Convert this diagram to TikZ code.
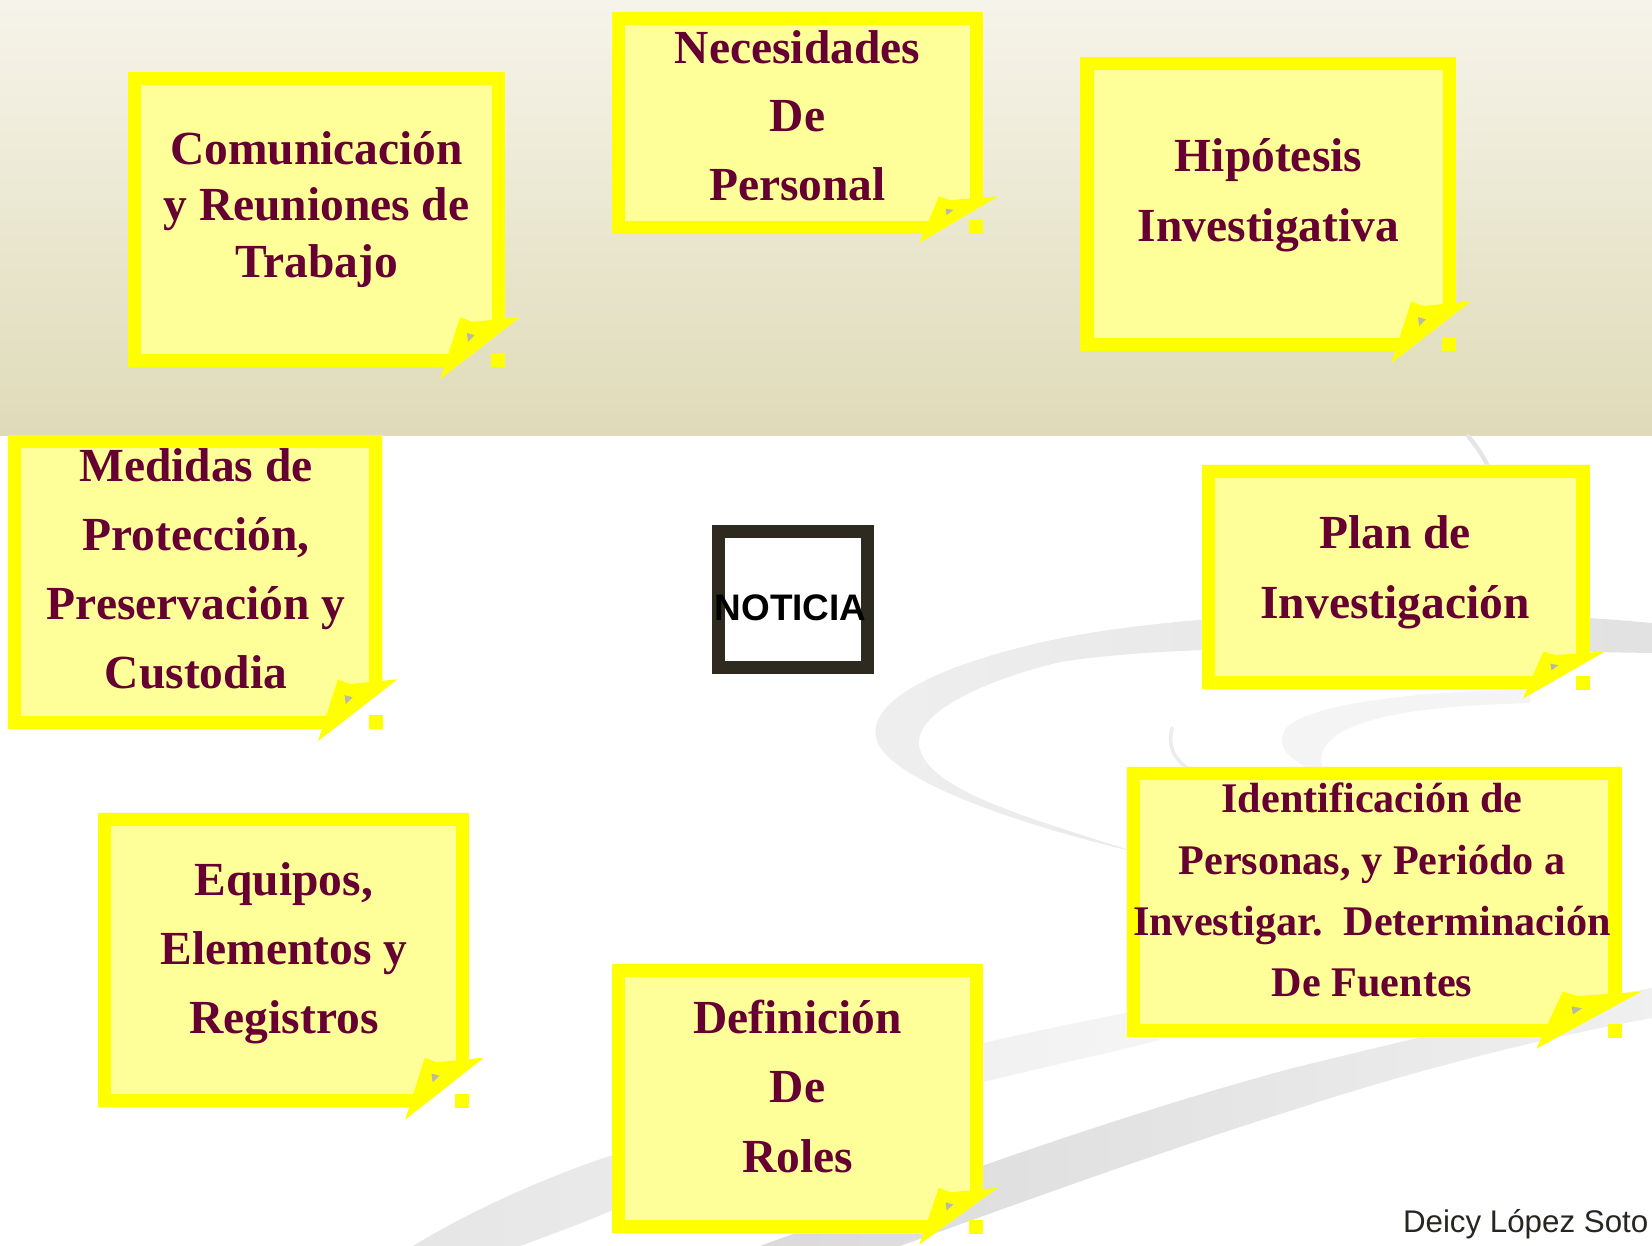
\documentclass[tikz,border=0pt]{standalone}
\usepackage{fontspec}
\setmainfont{Liberation Serif}
\newfontfamily\arialfont{Liberation Sans}

\definecolor{notelight}{RGB}{255,255,153}
\definecolor{noteyellow}{RGB}{255,255,0}
\definecolor{notered}{RGB}{102,0,51}
\definecolor{flapgrey}{RGB}{185,185,165}
\definecolor{noticiaframe}{RGB}{46,42,32}
\definecolor{bandtop}{RGB}{246,244,234}
\definecolor{bandbottom}{RGB}{223,219,185}
\definecolor{signgrey}{RGB}{40,38,32}

\tikzset{
  notebox/.style={rectangle, inner sep=0pt, outer sep=0pt},
  notefill/.style={fill=notelight},
  noteframe/.style={draw=noteyellow, line width=3.83pt},
  noteflap/.style={fill=noteyellow},
  flapshade/.style={fill=flapgrey},
  notetext/.style={text=notered, align=center, inner sep=0pt, font=\bfseries\fontsize{13.5}{19.6}\selectfont},
  noticiabox/.style={draw=noticiaframe, fill=white, line width=3.83pt, minimum width=1.49cm, minimum height=1.355cm},
  noticiatext/.style={inner sep=0pt, font=\arialfont\bfseries\fontsize{10.5}{12}\selectfont},
  signtext/.style={inner sep=0pt, text=signgrey, font=\arialfont\fontsize{8.9}{10}\selectfont},
  swooshline/.style={line cap=round},
}

% name, centre, width, height (in px of the slide)
\newcommand{\notepage}[4]{%
  \node[notebox, minimum width=#3*0.01cm, minimum height=#4*0.01cm] (#1) at (#2) {};
  \fill[notefill] (#1.north west) -- (#1.north east)
    -- ([shift={(0,{-0.13*#4})}]#1.south east)
    -- ([shift={({-0.131*#3},0)}]#1.south east) -- (#1.south west) -- cycle;
  \draw[noteframe] ([shift={(-6.75,{-0.15*#4})}]#1.south east)
    -- ([shift={(-6.75,6.75)}]#1.north east) -- ([shift={(6.75,6.75)}]#1.north west)
    -- ([shift={(6.75,-6.75)}]#1.south west) -- ([shift={({-0.146*#3},-6.75)}]#1.south east);
  \fill[noteflap] ([shift={({-0.172*#3},{0.041*#4})}]#1.south east)
    -- ([shift={({-0.119*#3},{-0.169*#4})}]#1.south east)
    -- ([shift={({-0.0875*#3},{-0.153*#4})}]#1.south east)
    -- ([shift={({0.04*#3},{-0.169*#4})}]#1.south east) -- cycle;
  \fill[flapshade] ([shift={({-0.101*#3},{-0.115*#4})}]#1.south east)
    -- ([shift={({-0.080*#3},{-0.108*#4})}]#1.south east)
    -- ([shift={({-0.098*#3},{-0.085*#4})}]#1.south east) -- cycle;
  \fill[noteflap] ([shift={(-14,-14)}]#1.south east) rectangle (#1.south east);
}

\begin{document}
\begin{tikzpicture}[x=0.01cm, y=-0.01cm]
\useasboundingbox (0,0) rectangle (1652,1246);
\fill[white] (0,0) rectangle (1652,1246);
\shade[top color=bandtop, bottom color=bandbottom] (0,0) rectangle (1652,435);

% grey swooshes
\shade[left color=gray!13, right color=gray!23] (1652,623) .. controls (1400,600) and (1150,615) .. (1030,645)
  .. controls (920,672) and (870,705) .. (876,737) .. controls (882,775) and (1000,820) .. (1135,852)
  .. controls (1030,818) and (925,790) .. (919,745) .. controls (915,712) and (985,680) .. (1060,662)
  .. controls (1200,640) and (1450,650) .. (1652,653) -- cycle;
\fill[gray!9] (1530,690) .. controls (1420,690) and (1300,705) .. (1285,730)
  .. controls (1275,748) and (1290,762) .. (1325,775) .. controls (1318,760) and (1318,745) .. (1345,730)
  .. controls (1390,708) and (1470,705) .. (1530,703) -- cycle;
\draw[swooshline, gray!15, line width=1pt] (1172,728) .. controls (1168,745) and (1172,758) .. (1190,770);
\draw[swooshline, gray!20, line width=1.2pt] (1468,436) .. controls (1478,448) and (1486,460) .. (1490,472);
\shade[left color=gray!20, right color=gray!8] (413,1246) .. controls (480,1205) and (560,1172) .. (613,1155)
  .. controls (750,1105) and (880,1065) .. (983,1043) .. controls (1050,1028) and (1100,1018) .. (1140,1010)
  -- (1160,1040) .. controls (1100,1055) and (1040,1068) .. (983,1082)
  .. controls (850,1120) and (720,1165) .. (613,1210) .. controls (580,1224) and (550,1235) .. (520,1246) -- cycle;
\shade[left color=gray!29, right color=gray!12] (760,1246) .. controls (900,1195) and (1100,1120) .. (1293,1068)
  .. controls (1400,1042) and (1530,1010) .. (1652,988) -- (1652,1018)
  .. controls (1530,1040) and (1400,1075) .. (1293,1110) .. controls (1150,1155) and (1000,1210) .. (900,1246) -- cycle;

\notepage{comBox}{316.5,219.5}{377}{295}
\notepage{necBox}{797.5,123}{371}{222}
\notepage{hipBox}{1268,204}{376}{294}
\notepage{medBox}{195,582}{375}{294}
\notepage{planBox}{1395.5,577}{388}{225}
\notepage{idBox}{1374,902}{495}{271}
\notepage{eqBox}{283.5,960}{371}{295}
\notepage{defBox}{797.5,1098.5}{371}{270}

\node[notetext, font=\bfseries\fontsize{13.5}{16.1}\selectfont] (comTxt) at (316.5,209.5) {Comunicación\\y Reuniones de\\Trabajo};
\node[notetext, font=\bfseries\fontsize{13.5}{19.4}\selectfont] (necTxt) at (797.5,115.7) {Necesidades\\De\\Personal};
\node[notetext, font=\bfseries\fontsize{13.5}{20}\selectfont] (hipTxt) at (1268.5,195.5) {Hipótesis\\Investigativa};
\node[notetext] (medTxt) at (196,569) {Medidas de\\Protección,\\Preservación y\\Custodia};
\node[notetext, font=\bfseries\fontsize{13.5}{19.8}\selectfont] (planTxt) at (1395,572) {Plan de\\Investigación};
\node[notetext, font=\bfseries\fontsize{12}{17.4}\selectfont] (idTxt) at (1372,890) {Identificación de\\Personas, y Periódo a\\Investigar.\ \ Determinación\\De Fuentes};
\node[notetext] (eqTxt) at (284,953) {Equipos,\\Elementos y\\Registros};
\node[notetext, font=\bfseries\fontsize{13.5}{19.8}\selectfont] (defTxt) at (797.5,1086.5) {Definición\\De\\Roles};

\node[noticiabox] (noticia) at (792.8,599.5) {};
\node[noticiatext, anchor=base] (noticiaTxt) at (790.5,620) {NOTICIA};

\node[signtext, anchor=base east] (firma) at (1649,1232) {Deicy López Soto};
\end{tikzpicture}
\end{document}
